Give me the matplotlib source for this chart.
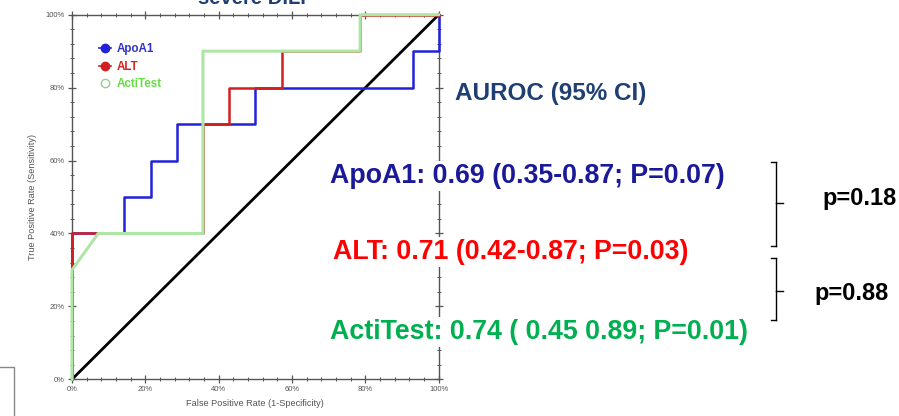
import matplotlib
matplotlib.use("Agg")
import matplotlib.pyplot as plt
from matplotlib.lines import Line2D
from matplotlib.ticker import MultipleLocator, PercentFormatter

plt.rcParams['font.family'] = ['Liberation Sans', 'DejaVu Sans']

# ROC curve vertices (FPR, TPR)
apoa1_fpr = [0, 0, 1/7, 1/7, 3/14, 3/14, 2/7, 2/7, 0.5, 0.5, 13/14, 13/14, 1, 1]
apoa1_tpr = [0, 0.4, 0.4, 0.5, 0.5, 0.6, 0.6, 0.7, 0.7, 0.8, 0.8, 0.9, 0.9, 1.0]
alt_fpr = [0, 0, 5/14, 5/14, 3/7, 3/7, 4/7, 4/7, 11/14, 11/14, 1]
alt_tpr = [0, 0.4, 0.4, 0.7, 0.7, 0.8, 0.8, 0.9, 0.9, 1.0, 1.0]
acti_fpr = [0, 0, 1/14, 5/14, 5/14, 11/14, 11/14, 1]
acti_tpr = [0, 0.3, 0.4, 0.4, 0.9, 0.9, 1.0, 1.0]
diag = [0, 1]

series_names = ["ApoA1", "ALT", "ActiTest"]
auroc_texts = ["ApoA1: 0.69 (0.35-0.87; P=0.07)",
               "ALT: 0.71 (0.42-0.87; P=0.03)",
               "ActiTest: 0.74 ( 0.45 0.89; P=0.01)"]
p_texts = ["p=0.18", "p=0.88"]

W, H = 899, 416
fig = plt.figure(figsize=(W/100, H/100), dpi=100)
ax = fig.add_axes([72/W, 1-379.3/H, (438.7-72)/W, (379.3-14.7)/H])

c_blue = "#2121D9"
c_red = "#D31F1F"
c_green = "#AEE6A6"
ax.plot(diag, diag, color="black", lw=2.0, zorder=2, clip_on=False)
ax.plot(apoa1_fpr, apoa1_tpr, color=c_blue, lw=1.8, zorder=3, clip_on=False)
ax.plot(alt_fpr, alt_tpr, color=c_red, lw=1.8, zorder=4, clip_on=False)
ax.plot(acti_fpr, acti_tpr, color=c_green, lw=2.2, zorder=5, clip_on=False)

ax.set_xlim(0, 1)
ax.set_ylim(0, 1)
for s in ax.spines.values():
    s.set_color("#555555")
    s.set_linewidth(1.0)
ax.xaxis.set_major_locator(MultipleLocator(0.2))
ax.yaxis.set_major_locator(MultipleLocator(0.2))
ax.xaxis.set_minor_locator(MultipleLocator(0.04))
ax.yaxis.set_minor_locator(MultipleLocator(0.04))
ax.xaxis.set_major_formatter(PercentFormatter(1.0, decimals=0))
ax.yaxis.set_major_formatter(PercentFormatter(1.0, decimals=0))
ax.tick_params(which='both', direction='inout', top=True, right=True,
               color="#555555", labelsize=5.5, labelcolor="#555555", pad=2)
ax.tick_params(which='major', length=6, width=0.9)
ax.tick_params(which='minor', length=3.5, width=0.7)
ax.set_xlabel("False Positive Rate (1-Specificity)", fontsize=6.6, color="#555555", labelpad=4)
ax.set_ylabel("True Positive Rate (Sensitivity)", fontsize=6.6, color="#555555", labelpad=6)

handles = [
    Line2D([], [], color=c_blue, marker='o', markersize=6, markerfacecolor=c_blue, lw=1.2),
    Line2D([], [], color=c_red, marker='o', markersize=6, markerfacecolor=c_red, lw=1.2),
    Line2D([], [], color="#99CC99", marker='o', markersize=6, markerfacecolor="white", lw=0),
]
leg = ax.legend(handles, series_names, loc='upper left', bbox_to_anchor=(0.045, 0.95),
                frameon=False, handlelength=1.0, handletextpad=0.5, labelspacing=0.45,
                prop={'size': 8.4, 'weight': 'bold'})
for t, c in zip(leg.get_texts(), ["#3333CC", "#DD2222", "#66DD44"]):
    t.set_color(c)

# Title (cut off at top, as in the reference)
fig.text(252/W, 1-4/H, "severe DILI", ha='center', va='baseline', fontsize=14.5,
         fontweight='bold', color="#1F3F73")

fig.text(455/W, 1-100/H, "AUROC (95% CI)", ha='left', va='baseline', fontsize=17.5,
         fontweight='bold', color="#1F3F73")
text_colors = ["#1A1A99", "#FF0000", "#00B050"]
text_x = [330, 333, 330]
text_y = [183, 259, 339]
for s, c, x, y in zip(auroc_texts, text_colors, text_x, text_y):
    fig.text(x/W, 1-y/H, s, ha='left', va='baseline', fontsize=19.3,
             fontweight='bold', color=c, zorder=10,
             bbox=dict(facecolor='white', edgecolor='none', pad=1.5))

p_x = [822, 814]
p_y = [205, 300]
for s, x, y in zip(p_texts, p_x, p_y):
    fig.text(x/W, 1-y/H, s, ha='left', va='baseline', fontsize=17,
             fontweight='bold', color="black")

def brace(top, bottom, mid, x=776, xl=770.5, xr=783):
    pts = [((xl, top), (x, top)), ((x, top), (x, bottom)), ((xl, bottom), (x, bottom)),
           ((x, mid), (xr, mid))]
    for (x0, y0), (x1, y1) in pts:
        fig.add_artist(Line2D([x0/W, x1/W], [1-y0/H, 1-y1/H], color="black", lw=1.0))

brace(161.7, 246, 202.7)
brace(258, 320, 290.7)

# box fragment bottom-left
fig.add_artist(Line2D([0, 14/W, 14/W], [1-367/H, 1-367/H, 0], color="#888888", lw=1.0))

fig.savefig("out.png", dpi=100)
